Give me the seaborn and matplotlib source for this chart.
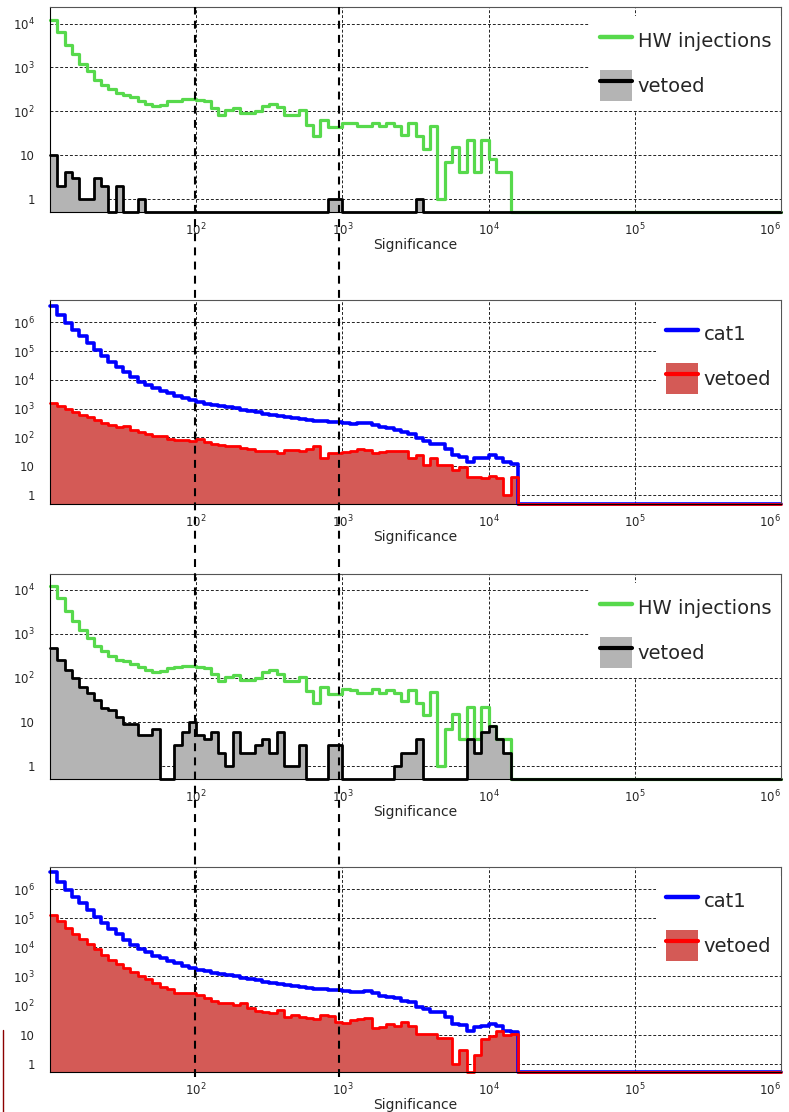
import numpy as np
import matplotlib
matplotlib.use("Agg")
import matplotlib.pyplot as plt
import seaborn as sns
from matplotlib.lines import Line2D
from matplotlib.patches import Patch
from matplotlib.ticker import FuncFormatter, LogLocator, NullFormatter
from matplotlib.transforms import blended_transform_factory

sns.set_style("white")
plt.rcParams["font.family"] = ["DejaVu Sans"]

# significance histograms: 100 log bins from 10 to 1e6 (20 per decade)
log_edges = list(np.linspace(1, 6, 101))

# HW injections (panels 1 and 3), bins 0-62
hw_injections = [12000, 6400, 3300, 2000, 1200, 820, 520, 400, 320, 260,
                 240, 210, 175, 150, 133, 140, 170, 175, 190, 190,
                 180, 170, 120, 83, 107, 117, 90, 90, 99, 133,
                 150, 125, 83, 83, 107, 49, 27, 62, 43, 43,
                 55, 53, 46, 45, 55, 45, 53, 45, 29, 53,
                 27, 14, 47, 1, 7, 15, 4, 22, 4, 22,
                 8, 4, 4]
# cat1 triggers (panels 2 and 4), bins 0-63
cat1 = [3700000, 1800000, 940000, 540000, 320000, 190000, 110000, 68000, 43000, 28000,
        18000, 12400, 8700, 6700, 5200, 4200, 3500, 2800, 2300, 2000,
        1700, 1500, 1360, 1250, 1130, 1020, 910, 820, 740, 660,
        610, 560, 510, 470, 430, 400, 380, 360, 340, 350,
        324, 290, 305, 330, 270, 222, 205, 180, 149, 137,
        92, 76, 59, 59, 41, 24, 21, 14, 19, 20,
        24, 20, 14, 12]

# vetoed counts per panel
vetoed_p1 = [10, 2, 4, 3, 1, 1, 3, 2, 0, 2,
             0, 0, 1, 0, 0, 0, 0, 0, 0, 0,
             0, 0, 0, 0, 0, 0, 0, 0, 0, 0,
             0, 0, 0, 0, 0, 0, 0, 0, 1, 1,
             0, 0, 0, 0, 0, 0, 0, 0, 0, 0,
             1]
vetoed_p2 = [1560, 1190, 960, 740, 610, 500, 410, 330, 270, 230,
             255, 185, 160, 134, 114, 108, 90, 83, 79, 73,
             88, 67, 60, 56, 49, 51, 43, 40, 35, 33,
             33, 30, 37, 36, 35, 40, 49, 19, 28, 28,
             32, 34, 39, 36, 28, 32, 34, 34, 34, 19,
             24, 11, 20, 11, 11, 7.4, 9.6, 4.3, 4.3, 3.8,
             4.6, 3.8, 1, 4.1]
vetoed_p3 = [480, 260, 150, 100, 62, 45, 31, 21, 19, 13,
             9, 9, 5, 5, 7, 0, 0, 3, 6, 10,
             5, 4, 6, 2, 1, 6, 2, 2, 3, 4,
             2, 6, 1, 1, 3, 0, 0, 0, 3, 3,
             0, 0, 0, 0, 0, 0, 0, 1, 2, 2,
             4, 0, 0, 0, 0, 0, 0, 4, 2, 6,
             8, 4, 2]
vetoed_p4 = [132000, 78000, 46000, 29000, 19000, 13300, 8700, 5600, 3700, 2700,
             1950, 1380, 1000, 810, 620, 450, 370, 280, 280, 270,
             235, 180, 140, 120, 128, 107, 125, 82, 68, 63,
             58, 72, 42, 48, 42, 37, 34, 48, 45, 28,
             26, 32, 34, 37, 17, 19, 24, 20, 28, 20,
             11, 11, 11, 8, 8, 1, 3, 0, 2, 7,
             9, 13, 10, 11]

# vertical cut lines drawn across all panels
cut_values = [98, 950]

GREEN = "#57d94c"
GRAY = "#b4b4b4"
BLUE = "#0000ff"
RED = "#ff0000"
RED_FILL = "#d45a56"

panels = [
    dict(main=hw_injections, veto=vetoed_p1, label="HW injections", color=GREEN,
         lw=2.3, vfill=GRAY, vline="black", ylim=(0.5, 2.4e4)),
    dict(main=cat1, veto=vetoed_p2, label="cat1", color=BLUE,
         lw=2.6, vfill=RED_FILL, vline=RED, ylim=(0.49, 5.9e6)),
    dict(main=hw_injections, veto=vetoed_p3, label="HW injections", color=GREEN,
         lw=2.3, vfill=GRAY, vline="black", ylim=(0.5, 2.3e4)),
    dict(main=cat1, veto=vetoed_p4, label="cat1", color=BLUE,
         lw=2.6, vfill=RED_FILL, vline=RED, ylim=(0.53, 5.7e6)),
]
# axes boxes in pixels (top, bottom) of the 789x1112 figure
rows_px = [(7, 212), (300, 504), (574, 779), (867, 1072)]

W, H = 789, 1112
fig = plt.figure(figsize=(W / 100, H / 100), dpi=100)

centers = 10 ** ((np.array(log_edges[:-1]) + np.array(log_edges[1:])) / 2)


def to_bins(vals):
    v = np.zeros(len(centers))
    v[:len(vals)] = vals
    return v


def ylabel_fmt(v, pos):
    e = int(round(np.log10(v)))
    if e == 0:
        return "1"
    if e == 1:
        return "10"
    return rf"$10^{{{e}}}$"


def xlabel_fmt(v, pos):
    e = int(round(np.log10(v)))
    if e <= 1:
        return ""
    return rf"$10^{{{e}}}$"


axes = []
for p, (top, bot) in zip(panels, rows_px):
    ax = fig.add_axes([50 / W, 1 - bot / H, 731 / W, (bot - top) / H])
    axes.append(ax)
    ax.set_yscale("log")
    floor = p["ylim"][0]
    main = np.clip(to_bins(p["main"]), floor, None)
    veto = to_bins(p["veto"])

    sns.histplot(x=centers, weights=main, bins=log_edges, log_scale=True,
                 element="step", fill=False, color=p["color"],
                 linewidth=p["lw"], clip_on=False, ax=ax)
    sns.histplot(x=centers, weights=veto, bins=log_edges, log_scale=True,
                 element="step", fill=True, color=p["vfill"], alpha=1,
                 linewidth=0, ax=ax)
    sns.histplot(x=centers, weights=np.clip(veto, floor, None), bins=log_edges,
                 log_scale=True, element="step", fill=False, color=p["vline"],
                 linewidth=2.0, clip_on=False, ax=ax)

    ax.set_xlim(10, 1e6)
    ax.set_ylim(*p["ylim"])
    ax.set_ylabel("")
    ax.set_xlabel("Significance", fontsize=10, labelpad=0)

    ax.yaxis.set_major_locator(LogLocator(base=10, numticks=20))
    ax.yaxis.set_minor_locator(LogLocator(base=10, subs=np.arange(2, 10), numticks=20))
    ax.yaxis.set_major_formatter(FuncFormatter(ylabel_fmt))
    ax.yaxis.set_minor_formatter(NullFormatter())
    ax.xaxis.set_major_locator(LogLocator(base=10, numticks=20))
    ax.xaxis.set_minor_locator(LogLocator(base=10, subs=np.arange(2, 10), numticks=20))
    ax.xaxis.set_major_formatter(FuncFormatter(xlabel_fmt))
    ax.xaxis.set_minor_formatter(NullFormatter())

    ax.grid(True, which="major", color="#222222", linestyle=(0, (3, 2)), linewidth=0.7)
    ax.set_axisbelow(True)
    ax.tick_params(which="both", direction="in", color="black", width=0.8)
    ax.tick_params(axis="y", which="major", length=8, pad=11, labelsize=8.5)
    ax.tick_params(axis="y", which="minor", length=6.5)
    ax.tick_params(axis="x", which="major", length=4.5, pad=7, labelsize=8.5)
    ax.tick_params(axis="x", which="minor", length=2.5)
    for side, sp in ax.spines.items():
        sp.set_color("#555555" if side in ("top", "right") else "black")
        sp.set_linewidth(0.8)

    # keep the 1e6 label inside the figure edge
    for lbl in ax.get_xticklabels():
        if lbl.get_position()[0] > 9.9e5:
            lbl.set_horizontalalignment("right")

    handles = [Line2D([], [], color=p["color"], lw=3.2),
               (Patch(facecolor=p["vfill"], edgecolor="none"),
                Line2D([], [], color=p["vline"], lw=3.0))]
    ax.legend(handles, [p["label"], "vetoed"], loc="upper right",
              bbox_to_anchor=(1.0, 0.955), fontsize=14, handlelength=1.65,
              handleheight=2.05, labelspacing=0.7, handletextpad=0.3,
              borderpad=0.5, borderaxespad=0, frameon=True, facecolor="white",
              edgecolor="none", framealpha=1, fancybox=False)

# dashed cut lines spanning the whole stack of panels
trans = blended_transform_factory(axes[0].transData, fig.transFigure)
for c in cut_values:
    fig.add_artist(Line2D([c, c], [1 - 1077 / H, 1 - 7 / H], transform=trans,
                          color="black", lw=1.5, linestyle=(0, (3.8, 3.0)),
                          zorder=10))

# thin dark red edge left of the bottom panel
fig.add_artist(Line2D([3 / W, 3 / W], [0, 1 - 1030 / H], transform=fig.transFigure,
                      color="#8b0000", lw=1.0))

fig.savefig("out.png", dpi=100)
